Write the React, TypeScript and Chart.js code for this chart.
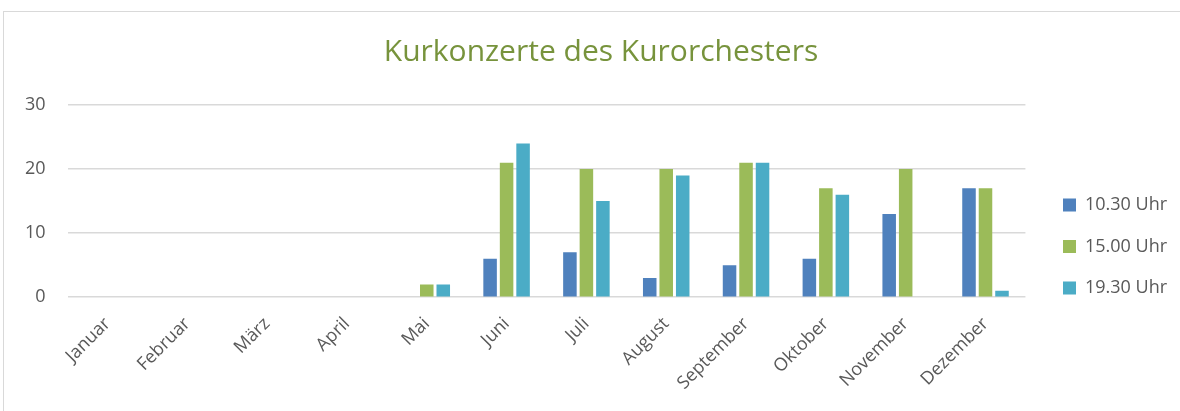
import React, { useEffect, useRef } from "react";
import { Chart, registerables } from "chart.js";

Chart.register(...registerables);

const months = ["Januar", "Februar", "März", "April", "Mai", "Juni", "Juli", "August", "September", "Oktober", "November", "Dezember"];
const seriesNames = ["10.30 Uhr", "15.00 Uhr", "19.30 Uhr"];
const s1030 = [0, 0, 0, 0, 0, 6, 7, 3, 5, 6, 13, 17];
const s1500 = [0, 0, 0, 0, 2, 21, 20, 20, 21, 17, 20, 17];
const s1930 = [0, 0, 0, 0, 2, 24, 15, 19, 21, 16, 0, 1];
const yTicks = [0, 10, 20, 30];
const colors = ["#4F81BD", "#9BBB59", "#4BACC6"];

const FONT = "'Open Sans', 'Liberation Sans', sans-serif";
const LEGEND_PAD = 23.5;

const legendPlacer = {
  id: "legendPlacer",
  afterLayout(chart: any) {
    const L = chart.legend;
    if (L) {
      const colH = L.columnSizes && L.columnSizes[0] ? L.columnSizes[0].height : 125;
      const t0 = (L.top + LEGEND_PAD + L.bottom - colH) / 2;
      const dy = 196 - t0;
      L.top += dy;
      L.bottom += dy;
      const dx = 1063 - LEGEND_PAD - L.left;
      L.left += dx;
      L.right += dx;
    }
    const T = chart.titleBlock;
    if (T) {
      const shift = 601 - (T.left + T.right) / 2;
      T.left += shift;
      T.right += shift;
    }
  },
};

export default function App() {
  const ref = useRef<HTMLCanvasElement | null>(null);
  useEffect(() => {
    if (!ref.current) return;
    const chart = new Chart(ref.current, {
      type: "bar",
      data: {
        labels: months,
        datasets: [
          { label: seriesNames[0], data: s1030, backgroundColor: colors[0] },
          { label: seriesNames[1], data: s1500, backgroundColor: colors[1] },
          { label: seriesNames[2], data: s1930, backgroundColor: colors[2] },
        ],
      },
      options: {
        animation: false,
        responsive: false,
        maintainAspectRatio: false,
        layout: { padding: { left: 3, right: 17, top: 11, bottom: 9 } },
        datasets: { bar: { barPercentage: 0.82, categoryPercentage: 0.62 } },
        plugins: {
          title: {
            display: true,
            text: "Kurkonzerte des Kurorchesters",
            color: "#77933C",
            font: { family: FONT, size: 30, weight: "normal" },
            padding: { top: 23, bottom: 35 },
          },
          legend: {
            display: true,
            position: "right",
            align: "center",
            labels: {
              boxWidth: 13,
              boxHeight: 13,
              padding: LEGEND_PAD,
              color: "#595959",
              font: { family: FONT, size: 18 },
            },
          },
          tooltip: { enabled: false },
        },
        scales: {
          x: {
            grid: { display: false },
            border: { display: false },
            ticks: {
              color: "#595959",
              font: { family: FONT, size: 18 },
              maxRotation: 45,
              minRotation: 45,
              padding: 8,
              autoSkip: false,
            },
          },
          y: {
            min: 0,
            max: 30,
            afterBuildTicks: (axis: any) => {
              axis.ticks = yTicks.map((v) => ({ value: v }));
            },
            grid: { color: "#D9D9D9", lineWidth: 1.5, drawTicks: false },
            border: { display: false },
            ticks: {
              color: "#595959",
              font: { family: FONT, size: 18 },
              padding: 22,
            },
          },
        },
      },
      plugins: [legendPlacer],
    } as any);
    return () => chart.destroy();
  }, []);
  return (
    <div style={{ position: "absolute", left: 0, top: 0, width: 1180, height: 411, overflow: "hidden", background: "#fff" }}>
      <div style={{ position: "absolute", left: 3, top: 11, width: 1200, height: 420, border: "1px solid #D9D9D9" }} />
      <canvas ref={ref} width={1180} height={411} style={{ position: "absolute", left: 0, top: 0 }} />
    </div>
  );
}
